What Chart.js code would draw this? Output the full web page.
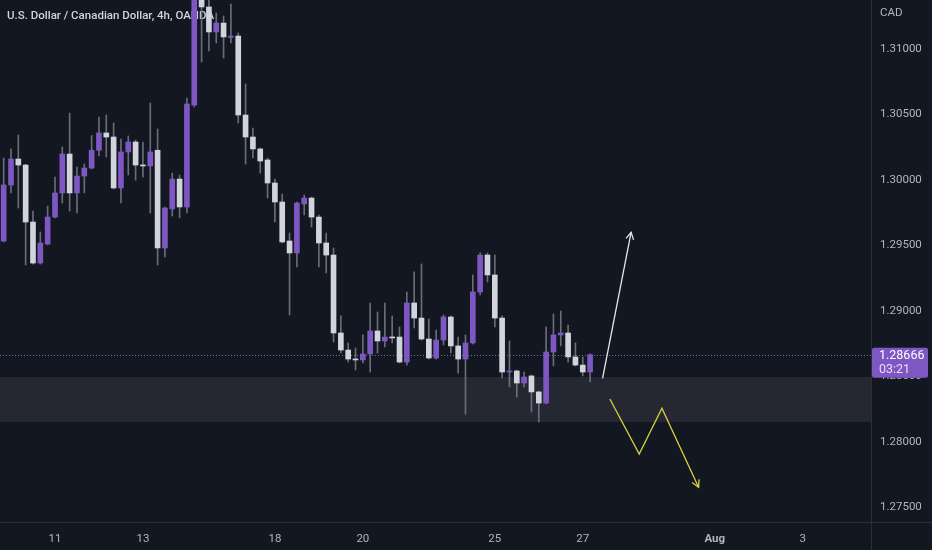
<!DOCTYPE html>
<html>
<head>
<meta charset="utf-8">
<script src="https://cdn.jsdelivr.net/npm/chart.js@4/dist/chart.umd.min.js"></script>
<style>
html, body { margin: 0; padding: 0; background: #131722; }
#wrap { width: 932px; height: 550px; }
</style>
</head>
<body>
<div id="wrap"><canvas id="chart" width="932" height="550"></canvas></div>
<script>
// USDCAD 4h candles
const opens = [1.29534,1.29962,1.30160,1.30114,1.29679,1.29366,1.29511,1.29717,1.29901,1.30198,
  1.29901,1.30030,1.30091,1.30227,1.30359,1.30328,1.29939,1.30214,1.30290,1.30114,
  1.30107,1.30227,1.29481,1.29779,1.30007,1.29794,1.30572,1.31412,1.31321,1.31130,
  1.31198,1.31088,1.31099,1.30496,1.30328,1.30237,1.30153,1.29977,1.29832,1.29534,
  1.29443,1.29817,1.29862,1.29717,1.29519,1.29427,1.28832,1.28702,1.28633,1.28626,
  1.28672,1.28847,1.28771,1.28801,1.28801,1.28610,1.29061,1.28946,1.28786,1.28641,
  1.28778,1.28954,1.28733,1.28633,1.28756,1.29145,1.29427,1.29275,1.28946,1.28534,
  1.28542,1.28450,1.28504,1.28382,1.28297,1.28687,1.28817,1.28832,1.28649,1.28587,
  1.28534];
const highs = [1.30168,1.30237,1.30343,1.30120,1.29763,1.29603,1.29801,1.30023,1.30252,1.30511,
  1.30099,1.30122,1.30339,1.30481,1.30496,1.30435,1.30313,1.30336,1.30305,1.30290,
  1.30588,1.30389,1.29794,1.30053,1.30038,1.30626,1.31450,1.31450,1.31380,1.31275,
  1.31252,1.31343,1.31122,1.30733,1.30397,1.30244,1.30168,1.30007,1.29893,1.29595,
  1.29832,1.29885,1.29870,1.29733,1.29595,1.29481,1.28962,1.28756,1.28717,1.28817,
  1.29061,1.28992,1.29061,1.28962,1.28878,1.29145,1.29298,1.29359,1.28939,1.28855,
  1.28969,1.28962,1.28801,1.28817,1.29275,1.29443,1.29443,1.29427,1.28962,1.28771,
  1.28549,1.28534,1.28511,1.28389,1.28878,1.28977,1.29000,1.28893,1.28756,1.28649,
  1.28672];
const lows = [1.29527,1.29901,1.29786,1.29351,1.29358,1.29358,1.29504,1.29710,1.29824,1.29763,
  1.29748,1.29901,1.30084,1.30183,1.30175,1.29931,1.29824,1.30038,1.29999,1.30023,
  1.29748,1.29351,1.29412,1.29725,1.29710,1.29748,1.30557,1.30901,1.30985,1.31046,
  1.30931,1.31046,1.30435,1.30122,1.30168,1.30053,1.29862,1.29679,1.29519,1.28969,
  1.29336,1.29733,1.29641,1.29336,1.29290,1.28763,1.28679,1.28610,1.28549,1.28603,
  1.28534,1.28679,1.28725,1.28756,1.28603,1.28587,1.28870,1.28778,1.28633,1.28633,
  1.28740,1.28679,1.28526,1.28213,1.28748,1.29122,1.29221,1.28878,1.28488,1.28420,
  1.28343,1.28420,1.28229,1.28152,1.28290,1.28580,1.28733,1.28610,1.28580,1.28504,
  1.28458];
const closes = [1.29962,1.30160,1.30114,1.29679,1.29366,1.29519,1.29717,1.29901,1.30198,1.29901,
  1.30030,1.30091,1.30227,1.30359,1.30328,1.29939,1.30214,1.30290,1.30114,1.30107,
  1.30214,1.29481,1.29786,1.30007,1.29794,1.30580,1.31397,1.31321,1.31130,1.31198,
  1.31092,1.31099,1.30496,1.30328,1.30237,1.30145,1.29977,1.29832,1.29527,1.29443,
  1.29824,1.29862,1.29717,1.29519,1.29427,1.28832,1.28702,1.28633,1.28626,1.28672,
  1.28847,1.28771,1.28801,1.28794,1.28610,1.29061,1.28946,1.28786,1.28641,1.28778,
  1.28954,1.28733,1.28633,1.28756,1.29145,1.29427,1.29275,1.28946,1.28534,1.28542,
  1.28450,1.28496,1.28382,1.28297,1.28687,1.28817,1.28832,1.28649,1.28587,1.28534,
  1.28666];

// day labels sit on candle index positions
const dayTicks = [7, 19, 37, 49, 67, 79, 97, 109];
const dayLabels = ['11', '13', '18', '20', '25', '27', 'Aug', '3'];
const priceTicks = [1.275, 1.28, 1.285, 1.29, 1.295, 1.30, 1.305, 1.31];

const zone = [1.28152, 1.28496];
const lastPrice = 1.28666;
const countdown = '03:21';
const upArrow = [{ x: 81.7, y: 1.28486 }, { x: 85.6, y: 1.29601 }];
const downPath = [{ x: 82.7, y: 1.28328 }, { x: 86.7, y: 1.27908 }, { x: 89.8, y: 1.28257 }, { x: 94.8, y: 1.27654 }];

const bg = '#131722';
const upCol = '#7e57c2';
const downCol = '#d1d4dc';
const wickCol = '#6a6d78';
const textCol = '#b2b5be';
const lineCol = '#2a2e39';
const font = 'Roboto, "Noto Sans", sans-serif';

const bodies = opens.map((o, i) => ({ x: i, y: [o, closes[i]] }));
const wicks = opens.map((o, i) => ({ x: i, y: [lows[i], highs[i]] }));
const bodyColors = opens.map((o, i) => closes[i] >= o ? upCol : downCol);

const noPad = s => { s.paddingTop = 0; s.paddingBottom = 0; s.paddingLeft = 0; s.paddingRight = 0; };

const decor = {
  id: 'decor',
  beforeDraw(chart) {
    const c = chart.ctx;
    c.save();
    c.fillStyle = bg;
    c.fillRect(0, 0, chart.width, chart.height);
    c.restore();
  },
  beforeDatasetsDraw(chart) {
    const c = chart.ctx, a = chart.chartArea, y = chart.scales.y;
    c.save();
    // support zone
    const z1 = y.getPixelForValue(zone[1]), z0 = y.getPixelForValue(zone[0]);
    c.fillStyle = '#252833';
    c.fillRect(a.left, z1, a.right - a.left, z0 - z1);
    // last price line
    const lp = Math.round(y.getPixelForValue(lastPrice)) + 0.5;
    c.strokeStyle = 'rgba(160,150,200,0.7)';
    c.lineWidth = 1;
    c.setLineDash([1, 2]);
    c.beginPath();
    c.moveTo(a.left, lp);
    c.lineTo(a.right, lp);
    c.stroke();
    c.setLineDash([]);
    // title
    c.fillStyle = '#d1d4dc';
    c.font = '500 11.5px ' + font;
    c.textBaseline = 'middle';
    c.fillText('U.S. Dollar / Canadian Dollar, 4h, OANDA', 7, 16);
    c.restore();
  },
  afterDatasetsDraw(chart) {
    const c = chart.ctx;
    c.save();
    chart.data.datasets.forEach((ds, di) => {
      if (!ds.arrow) return;
      const pts = chart.getDatasetMeta(di).data;
      const p1 = pts[pts.length - 1], p0 = pts[pts.length - 2];
      const ang = Math.atan2(p1.y - p0.y, p1.x - p0.x);
      const L = 8;
      c.strokeStyle = ds.borderColor;
      c.lineWidth = 1.3;
      c.beginPath();
      c.moveTo(p1.x - L * Math.cos(ang - 0.5), p1.y - L * Math.sin(ang - 0.5));
      c.lineTo(p1.x, p1.y);
      c.lineTo(p1.x - L * Math.cos(ang + 0.5), p1.y - L * Math.sin(ang + 0.5));
      c.stroke();
    });
    c.restore();
  },
  afterDraw(chart) {
    const c = chart.ctx, a = chart.chartArea, y = chart.scales.y;
    c.save();
    c.strokeStyle = lineCol;
    c.lineWidth = 1;
    c.beginPath();
    c.moveTo(a.right + 0.5, 0);
    c.lineTo(a.right + 0.5, chart.height);
    c.moveTo(0, a.bottom + 0.5);
    c.lineTo(chart.width, a.bottom + 0.5);
    c.stroke();
    c.fillStyle = textCol;
    c.font = '11.5px ' + font;
    c.textBaseline = 'middle';
    c.fillText('CAD', a.right + 9, 13);
    // last price tag
    const py = y.getPixelForValue(lastPrice);
    c.fillStyle = upCol;
    c.beginPath();
    c.roundRect(a.right + 1, py - 7, 56, 30, 2);
    c.fill();
    c.font = '12.5px ' + font;
    c.fillStyle = '#ffffff';
    c.fillText(lastPrice.toFixed(5), a.right + 8, py + 1);
    c.fillStyle = '#e6defa';
    c.fillText(countdown, a.right + 8, py + 15);
    c.restore();
  }
};

new Chart(document.getElementById('chart'), {
  type: 'bar',
  data: {
    datasets: [
      { type: 'line', data: upArrow, borderColor: '#e6e6ea', borderWidth: 1.3, pointRadius: 0, tension: 0, arrow: true, order: 0 },
      { type: 'line', data: downPath, borderColor: '#d8d23c', borderWidth: 1.3, pointRadius: 0, tension: 0, arrow: true, order: 0 },
      { data: bodies, backgroundColor: bodyColors, borderWidth: 0, barThickness: 5, minBarLength: 1, grouped: false, order: 1 },
      { data: wicks, backgroundColor: wickCol, borderWidth: 0, barThickness: 1, grouped: false, order: 2 }
    ]
  },
  options: {
    responsive: false,
    animation: false,
    events: [],
    layout: { padding: 0 },
    plugins: { legend: { display: false }, tooltip: { enabled: false } },
    scales: {
      x: {
        type: 'linear',
        offset: false,
        min: -0.5,
        max: 118.32,
        grid: { display: false },
        border: { display: false },
        afterBuildTicks: s => { s.ticks = dayTicks.map(v => ({ value: v })); },
        afterFit: s => { s.height = 28; noPad(s); },
        ticks: {
          autoSkip: false,
          maxRotation: 0,
          padding: 2,
          color: textCol,
          font: ctx => ({ family: font, size: 11.5, weight: ctx.index === 6 ? 'bold' : 'normal' }),
          callback: (v, i) => dayLabels[i]
        }
      },
      y: {
        position: 'right',
        min: 1.27389,
        max: 1.31374,
        grid: { display: false },
        border: { display: false },
        afterBuildTicks: s => { s.ticks = priceTicks.map(v => ({ value: v })); },
        afterFit: s => { s.width = 61; noPad(s); },
        ticks: {
          padding: 1,
          color: textCol,
          font: { family: font, size: 11.5 },
          callback: v => Number(v).toFixed(5)
        }
      }
    }
  },
  plugins: [decor]
});
</script>
</body>
</html>
